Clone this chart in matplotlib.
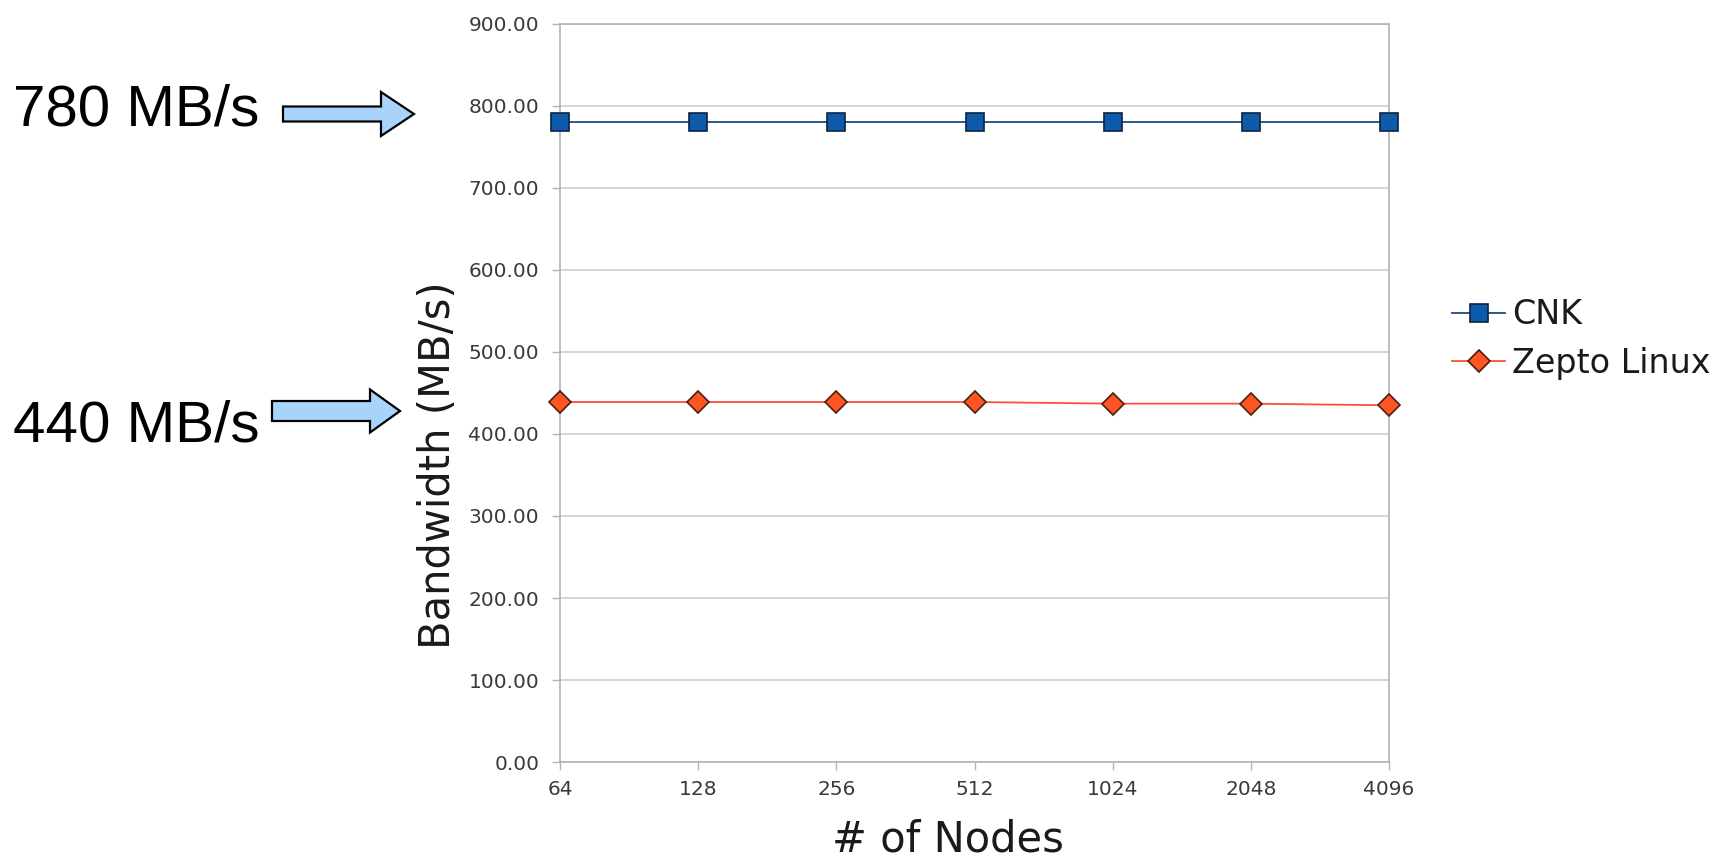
import matplotlib
matplotlib.use('Agg')
import matplotlib.pyplot as plt
from matplotlib.patches import FancyArrow

# Data
nodes = ['64', '128', '256', '512', '1024', '2048', '4096']
cnk_bw = [780, 780, 780, 780, 780, 780, 780]
zepto_bw = [439, 439, 439, 439, 437, 437, 435]
y_ticks = [0, 100, 200, 300, 400, 500, 600, 700, 800, 900]
callout_labels = ['780 MB/s', '440 MB/s']

W, H = 1726, 860
GRID = '#cfcfcf'
SPINE = '#b4b4b4'
TICK_TXT = '#3a3a3a'

fig = plt.figure(figsize=(W / 100, H / 100), dpi=100)
fig.patch.set_facecolor('white')

# main plot area, placed in pixel terms
left, right, top, bottom = 560, 1389, 24, 762
ax = fig.add_axes([left / W, 1 - bottom / H, (right - left) / W, (bottom - top) / H])

x = list(range(len(nodes)))
ax.plot(x, cnk_bw, color='#1d4b80', lw=1.3, marker='s', markersize=13.5,
        markerfacecolor='#0f5bab', markeredgecolor='#0b2440', markeredgewidth=1.2,
        label='CNK', zorder=3, clip_on=False)
ax.plot(x, zepto_bw, color='#ff4d3a', lw=1.3, marker='D', markersize=11.5,
        markerfacecolor='#ff5522', markeredgecolor='#4a2010', markeredgewidth=1.2,
        label='Zepto Linux', zorder=3, clip_on=False)

ax.set_xlim(0, len(nodes) - 1)
ax.set_ylim(0, 900)
ax.set_xticks(x)
ax.set_xticklabels(nodes)
ax.set_yticks(y_ticks)
ax.set_yticklabels(['%.2f' % v for v in y_ticks])
ax.yaxis.grid(True, color=GRID, lw=1.2)
ax.set_axisbelow(True)
for s in ax.spines.values():
    s.set_color(SPINE)
    s.set_linewidth(1.2)
ax.tick_params(axis='both', colors=SPINE, length=6, width=1.0,
               labelcolor=TICK_TXT)
ax.tick_params(axis='y', pad=9, labelsize=14.5)
ax.tick_params(axis='x', pad=7, labelsize=14.5)

fig.text(438 / W, 1 - 465 / H, 'Bandwidth (MB/s)', rotation=90,
         ha='center', va='center', fontsize=30, color='#1a1a1a')
fig.text(948 / W, 1 - 840 / H, '# of Nodes', ha='center', va='center',
         fontsize=30, color='#1a1a1a')

fig.legend(loc='center left', bbox_to_anchor=(1422 / W, 1 - 339 / H),
           frameon=False, fontsize=24, handlelength=1.6, handletextpad=0.2,
           labelspacing=0.45, labelcolor='#1a1a1a')

# overlay in pixel coords for the call-out labels and arrows
ov = fig.add_axes([0, 0, 1, 1])
ov.set_xlim(0, W)
ov.set_ylim(H, 0)
ov.axis('off')
ov.patch.set_visible(False)

ov.text(13, 126, callout_labels[0], fontsize=42, family='Liberation Sans',
        ha='left', va='baseline', color='black')
ov.text(13, 441, callout_labels[1], fontsize=42, family='Liberation Sans',
        ha='left', va='baseline', color='black')
ov.add_patch(FancyArrow(283, 114, 131, 0, width=15, head_width=44, head_length=33,
                        length_includes_head=True, fc='#a8d4fc', ec='black', lw=1.6))
ov.add_patch(FancyArrow(272, 411, 128, 0, width=20, head_width=43, head_length=30,
                        length_includes_head=True, fc='#a8d4fc', ec='black', lw=1.6))

fig.savefig('out.png', dpi=100)
